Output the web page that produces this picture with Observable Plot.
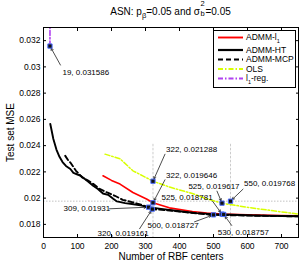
<!DOCTYPE html>
<html><head><meta charset="utf-8">
<script src="https://cdn.jsdelivr.net/npm/d3@7"></script>
<script src="https://cdn.jsdelivr.net/npm/@observablehq/plot@0.6"></script>
<style>
body{margin:0;background:#fff;font-family:"Liberation Sans",Arial,sans-serif;}
#wrap{position:relative;width:305px;height:262px;overflow:hidden;}
#title{height:20px;width:305px;text-align:center;font-size:10px;line-height:24px;padding-left:36px;box-sizing:border-box;color:#000;}
#title sub{font-size:7.5px;vertical-align:-2.5px;line-height:0;}
.ss{display:inline-block;position:relative;width:5.5px;height:10px;vertical-align:baseline;}
.ss .u{position:absolute;left:0.5px;top:-5px;font-size:7.5px;line-height:7px;}
.ss .d{position:absolute;left:0.5px;top:4.5px;font-size:7.5px;line-height:7px;}
#legend{position:absolute;left:213px;top:30px;}
</style></head><body>
<div id="wrap">
<div id="title">ASN: p<sub>β</sub>=0.05 and σ<span class="ss"><span class="u">2</span><span class="d">b</span></span>=0.05</div>
<div id="chart"></div>
<div id="legend"></div>
</div>
<script>
// ---------- data ----------
const xTicks = [0, 100, 200, 300, 400, 500, 600, 700];
const yTicks = [0.018, 0.020, 0.022, 0.024, 0.026, 0.028, 0.030, 0.032];

const htX = [20, 29, 38, 47, 56, 66, 79, 88, 100, 108, 117, 130, 146, 160, 175, 190, 205, 216, 240, 260, 285, 309, 340, 400, 450, 500, 530, 600, 650, 700, 750];
const htY = [0.02565, 0.02450, 0.02370, 0.02315, 0.02275, 0.02245, 0.02222, 0.02192, 0.02180, 0.02172, 0.02155, 0.02128, 0.02094, 0.02070, 0.02035, 0.02025, 0.01995, 0.01975, 0.01962, 0.01955, 0.01945, 0.01931, 0.01920, 0.01900, 0.01886, 0.01878, 0.018757, 0.01870, 0.01866, 0.01864, 0.01862];

const mcpX = [64, 72, 79, 95, 114, 130, 146, 165, 187, 210, 233, 260, 290, 320, 360, 400, 450, 500, 550, 600, 700, 750];
const mcpY = [0.02322, 0.02290, 0.02271, 0.02210, 0.02157, 0.02135, 0.02109, 0.02070, 0.02043, 0.02018, 0.01987, 0.01970, 0.01948, 0.019161, 0.01908, 0.01898, 0.01884, 0.018727, 0.01870, 0.01867, 0.01863, 0.01861];

const l1X = [175, 200, 225, 263, 303, 322, 370, 438, 480, 525, 600, 700, 750];
const l1Y = [0.02170, 0.02135, 0.02107, 0.02043, 0.01993, 0.019646, 0.01926, 0.01898, 0.01887, 0.018781, 0.01873, 0.01868, 0.01866];

const olsX = [181, 225, 263, 292, 322, 370, 440, 480, 525, 600, 700, 750];
const olsY = [0.02335, 0.02300, 0.02208, 0.02170, 0.021288, 0.02085, 0.02033, 0.01995, 0.019617, 0.01930, 0.01895, 0.01878];

const l1regX = [19, 20];
const l1regY = [0.031586, 0.06];

const seriesNames = ["ADMM-l1", "ADMM-HT", "ADMM-MCP", "OLS", "l1-reg."];

// data tips (marker values)
const tipX = [19, 322, 322, 525, 550, 525, 309, 320, 500, 530];
const tipY = [0.031586, 0.021288, 0.019646, 0.019617, 0.019768, 0.018781, 0.01931, 0.019161, 0.018727, 0.018757];

// reference lines
const vRefX = [322, 550];
const vRefTop = 0.0241;
const hRefY = [0.019768];

// ---------- layout / style ----------
const W = 305, H = 242, mL = 43, mR = 7, mT = 7, mB = 25;
const xDom = [0, 750], yDom = [0.017, 0.033];
const KX = (W - mL - mR) / (xDom[1] - xDom[0]);
const KY = (H - mT - mB) / (yDom[1] - yDom[0]);
// pixel offsets: text start (tx,ty) and arrow tail (ax,ay) relative to marker
const tipLayout = [
  {tx: 12.5, ty: 26, ax: 10.5, ay: 19},
  {tx: 13, ty: -31.6, ax: 12, ay: -27},
  {tx: 13, ty: -27, ax: 12, ay: -23},
  {tx: -33.6, ty: -16.4, ax: -5, ay: -12},
  {tx: 13.5, ty: -17.4, ax: 12.5, ay: -12},
  {tx: -60.5, ty: -16.3, ax: -9.5, ay: -13},
  {tx: -85, ty: 1.6, ax: -39, ay: 1.6},
  {tx: -54.7, ty: 24.3, ax: -12.7, ay: 19.6},
  {tx: -66, ty: 11, ax: -19, ay: 7},
  {tx: -6, ty: 18, ax: 8, ay: 11}
];
const colors = {"ADMM-l1": "#ff0000", "ADMM-HT": "#000000", "ADMM-MCP": "#000000", "OLS": "#d8ff00", "l1-reg.": "#b040f0"};
const dashes = {"ADMM-l1": null, "ADMM-HT": null, "ADMM-MCP": "5,3", "OLS": "5,2,1.5,2", "l1-reg.": "5,2,1.5,2"};
const widths = {"ADMM-l1": 1.6, "ADMM-HT": 1.9, "ADMM-MCP": 1.9, "OLS": 1.5, "l1-reg.": 1.6};

const toRows = (xs, ys) => xs.map((x, i) => ({x, y: ys[i]}));
const series = {
  "ADMM-HT": toRows(htX, htY),
  "ADMM-MCP": toRows(mcpX, mcpY),
  "ADMM-l1": toRows(l1X, l1Y),
  "OLS": toRows(olsX, olsY),
  "l1-reg.": toRows(l1regX, l1regY)
};
const tips = tipX.map((x, i) => ({
  x, y: tipY[i], label: `${x}, ${tipY[i]}`,
  txv: x + tipLayout[i].tx / KX, tyv: tipY[i] - tipLayout[i].ty / KY,
  axv: x + tipLayout[i].ax / KX, ayv: tipY[i] - tipLayout[i].ay / KY
}));

const lineMark = (name) => Plot.line(series[name], {
  x: "x", y: "y", stroke: colors[name], strokeWidth: widths[name],
  strokeDasharray: dashes[name] ?? undefined, clip: true
});

const fmt = d => String(+d.toFixed(3));

const plot = Plot.plot({
  width: W, height: H,
  marginLeft: mL, marginRight: mR, marginTop: mT, marginBottom: mB,
  style: {fontFamily: "Liberation Sans, Arial, sans-serif", fontSize: "8px", background: "#fff", color: "#000"},
  x: {domain: xDom},
  y: {domain: yDom},
  marks: [
    Plot.ruleY(hRefY, {stroke: "#999", strokeWidth: 0.6, strokeDasharray: "1.5,1.5"}),
    Plot.ruleX(vRefX, {y1: vRefTop, y2: yDom[0], stroke: "#aaa", strokeWidth: 0.6, strokeDasharray: "2.5,1.5"}),
    lineMark("OLS"),
    lineMark("ADMM-l1"),
    lineMark("ADMM-MCP"),
    lineMark("ADMM-HT"),
    lineMark("l1-reg."),
    Plot.arrow(tips, {x1: "axv", y1: "ayv", x2: "x", y2: "y", stroke: "#000", strokeWidth: 0.7, headLength: 5, insetEnd: 2.5}),
    Plot.dot(tips, {x: "x", y: "y", symbol: "square", r: 2.4, fill: "#111", stroke: "#4a6cff", strokeWidth: 1}),
    Plot.text(tips, {x: "txv", y: "tyv", text: "label", textAnchor: "start", fontSize: 8, fill: "#000"}),
    Plot.frame({stroke: "#000", strokeWidth: 1}),
    Plot.axisX({ticks: xTicks, tickSize: 0, tickPadding: 5, tickFormat: d => String(d), label: "Number of RBF centers", labelAnchor: "center", labelArrow: "none", labelOffset: 22, fontSize: 8.5}),
    Plot.axisX({ticks: xTicks, tickSize: -3, tickFormat: () => "", label: null}),
    Plot.axisX({anchor: "top", ticks: xTicks, tickSize: -3, tickFormat: () => "", label: null}),
    Plot.axisY({ticks: yTicks, tickSize: 0, tickPadding: 3, tickFormat: fmt, label: "Test set MSE", labelAnchor: "center", labelArrow: "none", labelOffset: 37, fontSize: 8.5}),
    Plot.axisY({ticks: yTicks, tickSize: -3, tickFormat: () => "", label: null}),
    Plot.axisY({anchor: "right", ticks: yTicks, tickSize: -3, tickFormat: () => "", label: null})
  ]
});
// enlarge axis titles to match the reference
d3.select(plot).selectAll("g[aria-label='x-axis label'] text, g[aria-label='y-axis label'] text").style("font-size", "10px");
document.getElementById("chart").appendChild(plot);

// ---------- legend ----------
const lg = d3.select("#legend").append("svg").attr("width", 83).attr("height", 58)
  .style("font-family", "Liberation Sans, Arial, sans-serif").style("font-size", "8.5px");
lg.append("rect").attr("x", 0.5).attr("y", 0.5).attr("width", 82).attr("height", 57).attr("fill", "#fff").attr("stroke", "#000").attr("stroke-width", 1);
const legendY = [7.5, 20, 29.5, 39, 48.5];
seriesNames.forEach((name, i) => {
  const y = legendY[i];
  lg.append("line").attr("x1", 5).attr("x2", 30).attr("y1", y).attr("y2", y)
    .attr("stroke", colors[name]).attr("stroke-width", widths[name] + 0.3)
    .attr("stroke-dasharray", dashes[name]);
  const t = lg.append("text").attr("x", 33).attr("y", y).attr("dy", "0.35em");
  if (name === "ADMM-l1") {
    t.append("tspan").text("ADMM-l");
    t.append("tspan").attr("dy", "2.5").attr("font-size", "5.5px").text("1");
  } else if (name === "l1-reg.") {
    t.append("tspan").text("l");
    t.append("tspan").attr("dy", "2.5").attr("font-size", "5.5px").text("1");
    t.append("tspan").attr("dy", "-2.5").text("-reg.");
  } else t.text(name);
});
</script>
</body></html>
